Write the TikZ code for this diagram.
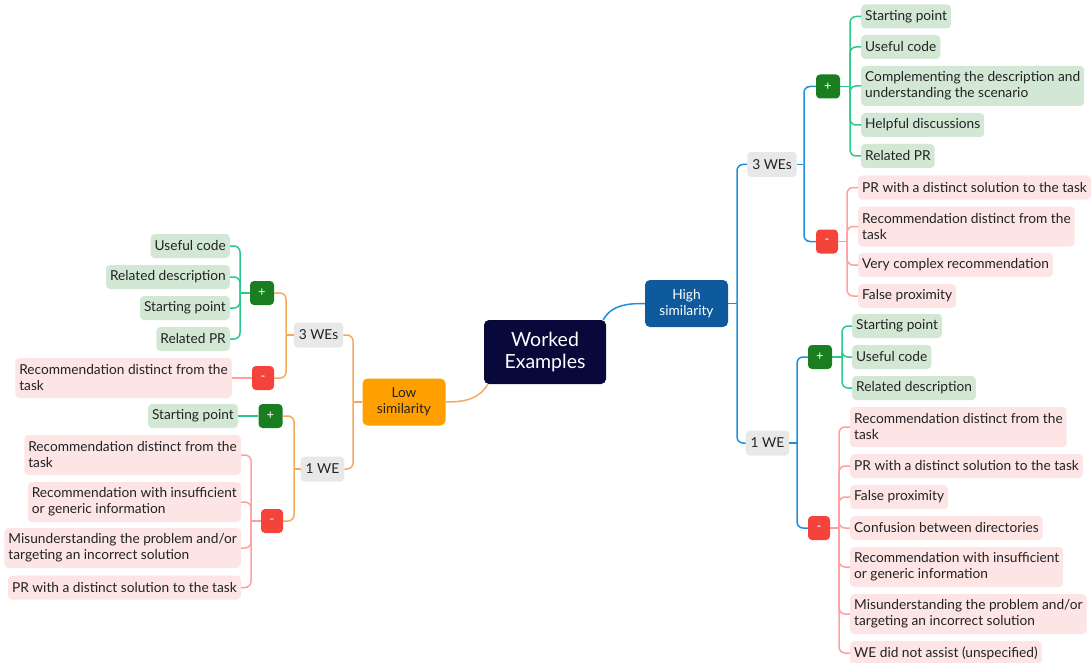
\documentclass[tikz,border=0pt]{standalone}
\usepackage{fontspec}
\setmainfont{Lato}
\definecolor{rootc}{HTML}{08083A}
\definecolor{hsc}{HTML}{0E5A9C}
\definecolor{bluel}{HTML}{1E8FDB}
\definecolor{lsc}{HTML}{FFA000}
\definecolor{orl}{HTML}{F5A95B}
\definecolor{weg}{HTML}{E8E8E8}
\definecolor{plusc}{HTML}{1A7D1F}
\definecolor{minc}{HTML}{F4433B}
\definecolor{grl}{HTML}{2DC98A}
\definecolor{rdl}{HTML}{FF9F9F}
\definecolor{gfill}{HTML}{D3E7D5}
\definecolor{rfill}{HTML}{FDE5E5}
\definecolor{txt}{HTML}{222222}
\begin{document}
\begin{tikzpicture}[x=1pt,y=-1pt,
  box/.style={rounded corners=4pt, inner xsep=4pt, inner ysep=4pt, minimum height=24pt,
    align=left, text=txt, font=\fontsize{13.7}{16}\selectfont},
  gleaf/.style={box, fill=gfill},
  rleaf/.style={box, fill=rfill},
  tall/.style={minimum height=40pt},
  we/.style={box, fill=weg, inner xsep=5pt, minimum height=25pt},
  pl/.style={rounded corners=4pt, fill=plusc, text=white, minimum width=24pt, minimum height=24pt,
    inner sep=0pt, font=\fontsize{13}{14}\selectfont},
  mi/.style={pl, fill=minc, minimum width=22pt},
  bl/.style={draw=bluel, line width=1.5pt, rounded corners=6pt},
  ol/.style={draw=orl, line width=1.5pt, rounded corners=6pt},
  gl/.style={draw=grl, line width=1.5pt, rounded corners=6pt},
  rl/.style={draw=rdl, line width=1.5pt, rounded corners=6pt}]
\useasboundingbox (0,0) rectangle (1091,663);

% main nodes
\node[fill=rootc, text=white, rounded corners=5pt, minimum width=122pt, minimum height=64pt,
  align=center, font=\fontsize{19.5}{22}\selectfont] (root) at (545,352) {Worked\\Examples};
\node[fill=hsc, text=white, rounded corners=5pt, minimum width=83pt, minimum height=47pt,
  align=center, font=\fontsize{13.7}{16}\selectfont] (hs) at (686.5,303.5) {High\\similarity};
\node[fill=lsc, text=txt, rounded corners=5pt, minimum width=83pt, minimum height=47pt,
  align=center, font=\fontsize{13.7}{16}\selectfont] (ls) at (404,402) {Low\\similarity};

% right side
\node[we] (r3) at (772,164.5) {3 WEs};
\node[we] (r1) at (767.5,443) {1 WE};
\node[pl] (rp1) at (828,86.5) {+};
\node[mi] (rm1) at (827,241.5) {-};
\node[pl] (rp2) at (820,357) {+};
\node[mi] (rm2) at (819,528) {-};

\node[gleaf, anchor=west] (a1) at (861,16.5) {Starting point};
\node[gleaf, anchor=west] (a2) at (861,47) {Useful code};
\node[gleaf, anchor=west, tall] (a3) at (861,86) {Complementing the description and\\understanding the scenario};
\node[gleaf, anchor=west] (a4) at (861,125) {Helpful discussions};
\node[gleaf, anchor=west] (a5) at (861,156) {Related PR};

\node[rleaf, anchor=west] (b1) at (858,187.5) {PR with a distinct solution to the task};
\node[rleaf, anchor=west, tall] (b2) at (858,226.5) {Recommendation distinct from the\\task};
\node[rleaf, anchor=west] (b3) at (858,265) {Very complex recommendation};
\node[rleaf, anchor=west] (b4) at (858,296) {False proximity};

\node[gleaf, anchor=west] (c1) at (852,326) {Starting point};
\node[gleaf, anchor=west] (c2) at (852,357) {Useful code};
\node[gleaf, anchor=west] (c3) at (852,388) {Related description};

\node[rleaf, anchor=west, tall] (d1) at (850,427) {Recommendation distinct from the\\task};
\node[rleaf, anchor=west] (d2) at (850,466) {PR with a distinct solution to the task};
\node[rleaf, anchor=west] (d3) at (850,497) {False proximity};
\node[rleaf, anchor=west] (d4) at (850,528) {Confusion between directories};
\node[rleaf, anchor=west, tall] (d5) at (850,567) {Recommendation with insufficient\\or generic information};
\node[rleaf, anchor=west, tall] (d6) at (850,614) {Misunderstanding the problem and/or\\targeting an incorrect solution};
\node[rleaf, anchor=west] (d7) at (850,653) {WE did not assist (unspecified)};

% left side
\node[we] (l3) at (318.5,335) {3 WEs};
\node[we] (l1) at (322.5,469) {1 WE};
\node[pl] (lp1) at (262,293) {+};
\node[mi] (lm1) at (263,378) {-};
\node[pl] (lp2) at (270.5,416) {+};
\node[mi] (lm2) at (272,521) {-};

\node[gleaf, anchor=east] (e1) at (230,246) {Useful code};
\node[gleaf, anchor=east] (e2) at (230,277) {Related description};
\node[gleaf, anchor=east] (e3) at (230,308) {Starting point};
\node[gleaf, anchor=east] (e4) at (230,339) {Related PR};
\node[rleaf, anchor=east, tall] (f1) at (232,378) {Recommendation distinct from the\\task};

\node[gleaf, anchor=east] (g1) at (238,416) {Starting point};
\node[rleaf, anchor=east, tall] (h1) at (241,455) {Recommendation distinct from the\\task};
\node[rleaf, anchor=east, tall] (h2) at (241,502) {Recommendation with insufficient\\or generic information};
\node[rleaf, anchor=east, tall] (h3) at (241,548) {Misunderstanding the problem and/or\\targeting an incorrect solution};
\node[rleaf, anchor=east] (h4) at (241,587.5) {PR with a distinct solution to the task};

% trunk x positions
\coordinate (tH) at (737,0);
\coordinate (tR3) at (804,0);
\coordinate (tRP1) at (850,0);
\coordinate (tRM1) at (847,0);
\coordinate (tR1) at (797,0);
\coordinate (tRP2) at (842,0);
\coordinate (tRM2) at (839,0);
\coordinate (tL) at (353,0);
\coordinate (tL3) at (286,0);
\coordinate (tLP1) at (240,0);
\coordinate (tL1) at (294,0);
\coordinate (tLM2) at (251,0);

% root links
\draw[bl] ([xshift=-3pt]root.north east) to[out=60,in=180] (hs.west);
\draw[ol] ([xshift=4pt]root.south west) to[out=-120,in=0] (ls.east);

% right connectors
\draw[bl] (hs.east) -- (hs.east -| tH);
\foreach \c in {r3,r1} \draw[bl] (hs.east -| tH) |- (\c.west);
\draw[bl] (r3.east) -- (r3.east -| tR3);
\foreach \c in {rp1,rm1} \draw[bl] (r3.east -| tR3) |- (\c.west);
\draw[bl] (r1.east) -- (r1.east -| tR1);
\foreach \c in {rp2,rm2} \draw[bl] (r1.east -| tR1) |- (\c.west);
\draw[gl] (rp1.east) -- (rp1.east -| tRP1);
\foreach \c in {a1,a2,a3,a4,a5} \draw[gl] (rp1.east -| tRP1) |- (\c.west);
\draw[rl] (rm1.east) -- (rm1.east -| tRM1);
\foreach \c in {b1,b2,b3,b4} \draw[rl] (rm1.east -| tRM1) |- (\c.west);
\draw[gl] (rp2.east) -- (rp2.east -| tRP2);
\foreach \c in {c1,c2,c3} \draw[gl] (rp2.east -| tRP2) |- (\c.west);
\draw[rl] (rm2.east) -- (rm2.east -| tRM2);
\foreach \c in {d1,d2,d3,d4,d5,d6,d7} \draw[rl] (rm2.east -| tRM2) |- (\c.west);

% left connectors
\draw[ol] (ls.west) -- (ls.west -| tL);
\foreach \c in {l3,l1} \draw[ol] (ls.west -| tL) |- (\c.east);
\draw[ol] (l3.west) -- (l3.west -| tL3);
\foreach \c in {lp1,lm1} \draw[ol] (l3.west -| tL3) |- (\c.east);
\draw[ol] (l1.west) -- (l1.west -| tL1);
\foreach \c in {lp2,lm2} \draw[ol] (l1.west -| tL1) |- (\c.east);
\draw[gl] (lp1.west) -- (lp1.west -| tLP1);
\foreach \c in {e1,e2,e3,e4} \draw[gl] (lp1.west -| tLP1) |- (\c.east);
\draw[rl] (lm1.west) -- (f1.east);
\draw[gl] (lp2.west) -- (g1.east);
\draw[rl] (lm2.west) -- (lm2.west -| tLM2);
\foreach \c in {h1,h2,h3,h4} \draw[rl] (lm2.west -| tLM2) |- (\c.east);
\end{tikzpicture}
\end{document}
